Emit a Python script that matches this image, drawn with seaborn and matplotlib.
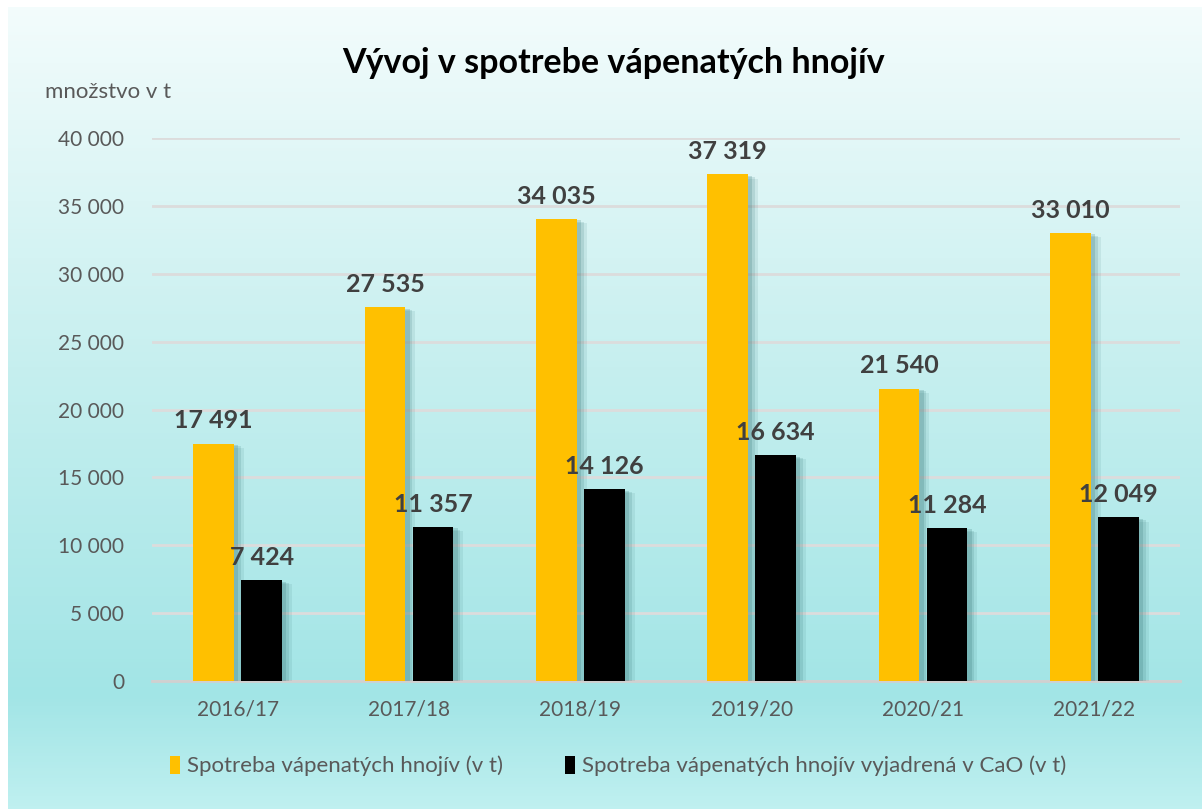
import numpy as np
import pandas as pd
import matplotlib
matplotlib.use("Agg")
import matplotlib.pyplot as plt
import matplotlib.patheffects as pe
from matplotlib.colors import LinearSegmentedColormap
from matplotlib.patches import Patch
import seaborn as sns

years = ["2016/17", "2017/18", "2018/19", "2019/20", "2020/21", "2021/22"]
total = [17491, 27535, 34035, 37319, 21540, 33010]
cao = [7424, 11357, 14126, 16634, 11284, 12049]
series_names = ["Spotreba vápenatých hnojív (v t)",
                "Spotreba vápenatých hnojív vyjadrená v CaO (v t)"]
colors = ["#FFC000", "#000000"]
yticks = [0, 5000, 10000, 15000, 20000, 25000, 30000, 35000, 40000]

df = pd.DataFrame({
    "year": years * 2,
    "value": total + cao,
    "series": [series_names[0]] * len(years) + [series_names[1]] * len(years),
})

sns.set_theme(style="white")
plt.rcParams["font.family"] = ["Lato", "DejaVu Sans"]

fig = plt.figure(figsize=(12.02, 8.09), dpi=100)
fig.patch.set_facecolor("white")

# gradient background
bg = fig.add_axes([8 / 1202, 0, 1 - 8 / 1202, 1 - 7 / 809], zorder=-10)
cmap = LinearSegmentedColormap.from_list(
    "bg", [(0, "#f3fcfc"), (0.45, "#c6efef"), (0.86, "#a2e5e6"), (1.0, "#bff0f0")])
grad = np.linspace(0, 1, 256).reshape(-1, 1)
bg.imshow(grad, aspect="auto", cmap=cmap, extent=[0, 1, 0, 1], origin="upper")
bg.set_axis_off()

ax = fig.add_axes([152 / 1202, (809 - 681) / 809, (1180 - 152) / 1202, (681 - 138) / 809])
ax.patch.set_alpha(0)

sns.barplot(data=df, x="year", y="value", hue="series", palette=colors,
            saturation=1, width=0.56, gap=0.146, ax=ax, legend=False, zorder=3)

shadow = [pe.SimplePatchShadow(offset=(7, -3), shadow_rgbFace="#2f6f70", alpha=0.10),
          pe.SimplePatchShadow(offset=(5, -2), shadow_rgbFace="#2f6f70", alpha=0.15),
          pe.SimplePatchShadow(offset=(3, -1), shadow_rgbFace="#2f6f70", alpha=0.2),
          pe.Normal()]
for p in ax.patches:
    p.set_path_effects(shadow)
    p.set_edgecolor("none")

for cont in ax.containers:
    labels = [f"{v:,.0f}".replace(",", " ") for v in cont.datavalues]
    ax.bar_label(cont, labels=labels, padding=8, fontsize=18, fontweight="bold",
                 color="#404040")

ax.set_ylim(0, 40000)
ax.set_yticks(yticks)
ax.set_yticklabels([f"{v:,.0f}".replace(",", " ") for v in yticks])
ax.yaxis.grid(True, color="#dcdcdc", linewidth=2, zorder=0)
ax.set_axisbelow(True)
for s in ["top", "right", "left"]:
    ax.spines[s].set_visible(False)
ax.spines["bottom"].set_color("#d0d0d0")
ax.spines["bottom"].set_linewidth(2)
ax.tick_params(axis="both", length=0, labelsize=15, labelcolor="#595959")
ax.tick_params(axis="y", pad=20)
ax.tick_params(axis="x", pad=13)
ax.set_xlabel("")
ax.set_ylabel("")

fig.text(45 / 1202, 1 - 92 / 809, "množstvo v t", fontsize=16, color="#595959",
         va="center", ha="left")
fig.text(614 / 1202, 1 - 63 / 809, "Vývoj v spotrebe vápenatých hnojív", fontsize=24.5,
         fontweight="bold", color="black", ha="center", va="center")

handles = [Patch(facecolor=c, edgecolor="none") for c in colors]
fig.legend(handles, series_names, loc="center", bbox_to_anchor=(618 / 1202, 1 - 766 / 809),
           ncol=2, frameon=False, fontsize=16, labelcolor="#595959",
           handlelength=0.45, handleheight=0.9, handletextpad=0.3, columnspacing=2.8)

fig.savefig("out.png", dpi=100)
